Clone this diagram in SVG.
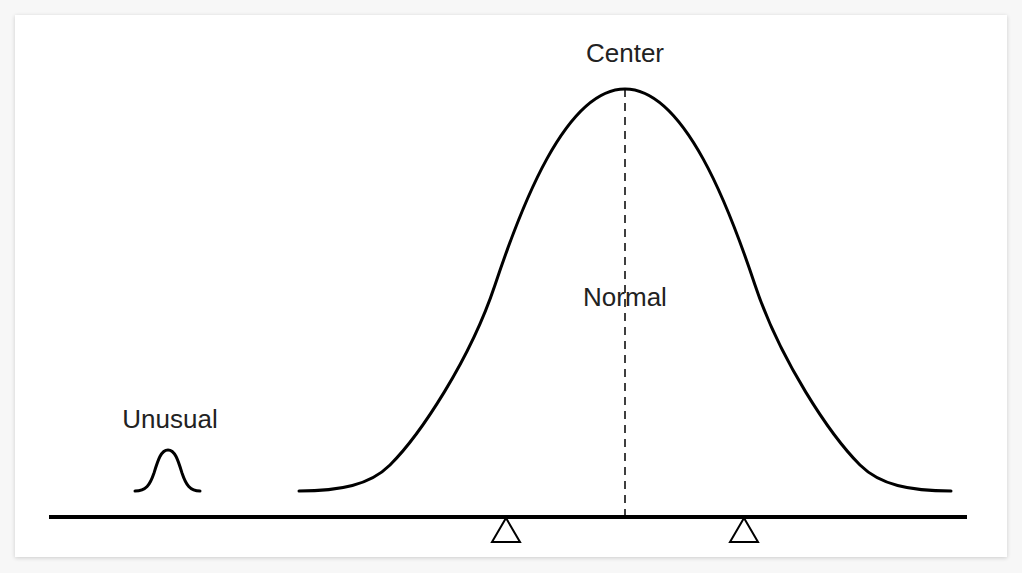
<svg xmlns="http://www.w3.org/2000/svg" width="1022" height="573" viewBox="0 0 1022 573">
  <defs>
    <filter id="shadow" x="-5%" y="-5%" width="110%" height="110%">
      <feGaussianBlur in="SourceAlpha" stdDeviation="2"/>
      <feOffset dx="0" dy="1"/>
      <feComponentTransfer><feFuncA type="linear" slope="0.18"/></feComponentTransfer>
      <feMerge><feMergeNode/><feMergeNode in="SourceGraphic"/></feMerge>
    </filter>
  </defs>
  <style>
    .curve { fill: none; stroke: #000; stroke-width: 3; stroke-linecap: round; stroke-linejoin: round; }
    .lbl { font-family: "Liberation Sans", Arial, sans-serif; font-size: 26px; fill: #222; text-anchor: middle; }
    .tri { fill: #fff; stroke: #000; stroke-width: 2; }
  </style>
  <rect x="0" y="0" width="1022" height="573" fill="#f7f7f7"/>
  <rect x="15" y="15" width="992" height="542" fill="#fff" filter="url(#shadow)"/>
  <g id="connectors">
    <line x1="625" y1="89" x2="625" y2="517" stroke="#000" stroke-width="1.5" stroke-dasharray="8,6"/>
  </g>
  <g id="normal-curve">
    <path class="curve" d="M299,491 C340,491 370,485 390,465 C420,435 470,360 495,285 C520,210 565,89 625,89 C685,89 730,210 755,285 C780,360 830,435 860,465 C880,485 910,491 951,491"/>
    <text class="lbl" x="625" y="306">Normal</text>
  </g>
  <g id="center-label">
    <text class="lbl" x="625" y="62">Center</text>
  </g>
  <g id="unusual-curve">
    <path class="curve" d="M135,491 C146,491 150,485 154,473 C158,460 161,450 168,450 C175,450 178,460 182,473 C186,485 190,491 200,491"/>
    <text class="lbl" x="170" y="428">Unusual</text>
  </g>
  <g id="baseline">
    <line x1="49" y1="517" x2="967" y2="517" stroke="#000" stroke-width="4"/>
  </g>
  <g id="fulcrum-left">
    <polygon class="tri" points="506,518 492,542 520,542"/>
  </g>
  <g id="fulcrum-right">
    <polygon class="tri" points="744,518 730,542 758,542"/>
  </g>
</svg>
